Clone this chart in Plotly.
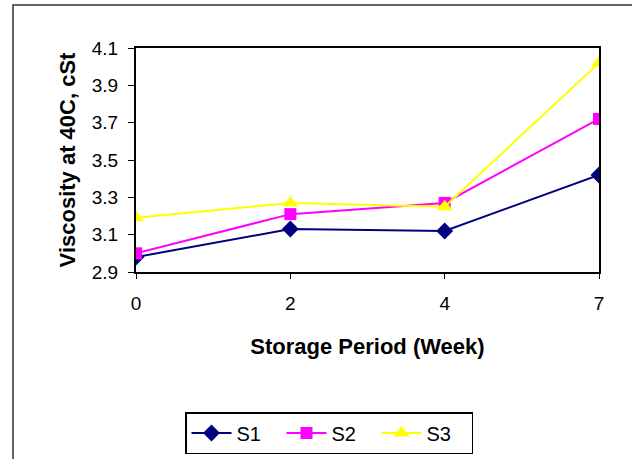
import plotly.graph_objects as go

weeks = ["0", "2", "4", "7"]
s1 = [2.98, 3.13, 3.12, 3.42]
s2 = [3.00, 3.21, 3.27, 3.72]
s3 = [3.19, 3.27, 3.25, 4.02]
y_ticks = [2.9, 3.1, 3.3, 3.5, 3.7, 3.9, 4.1]

W, H = 632, 459
L, R, T, B = 136, 33, 48, 187
pw, ph = W - L - R, H - T - B

fig = go.Figure()
fig.add_trace(go.Scatter(x=weeks, y=s1, name="S1", mode="lines+markers",
                         line=dict(color="#000080", width=2),
                         marker=dict(symbol="diamond", size=13, color="#000080")))
fig.add_trace(go.Scatter(x=weeks, y=s2, name="S2", mode="lines+markers",
                         line=dict(color="#FF00FF", width=2),
                         marker=dict(symbol="square", size=12, color="#FF00FF")))
fig.add_trace(go.Scatter(x=weeks, y=s3, name="S3", mode="lines+markers",
                         line=dict(color="#FFFF00", width=2),
                         marker=dict(symbol="triangle-up", size=14, color="#FFFF00")))

fam = "Liberation Sans, Arial, sans-serif"
tickfont = dict(family=fam, size=19, color="black")
titlefont = dict(family=fam, size=22, color="black")

fig.update_layout(
    width=W, height=H,
    margin=dict(l=L, r=R, t=T, b=B, autoexpand=False),
    paper_bgcolor="white", plot_bgcolor="white",
    font=tickfont,
    showlegend=True,
    legend=dict(orientation="h", x=(185 - L) / pw, y=-(412 - (T + ph)) / ph,
                xanchor="left", yanchor="top",
                bordercolor="black", borderwidth=1.5,
                font=dict(family=fam, size=20, color="black"),
                itemwidth=40, entrywidth=40, entrywidthmode="pixels",
                tracegroupgap=0),
    xaxis=dict(type="category", categoryorder="array", categoryarray=weeks,
               range=[0, 3], showgrid=False, zeroline=False, automargin=False,
               showline=True, linecolor="black", linewidth=2, mirror=True,
               ticks="outside", ticklen=5, tickcolor="black", tickwidth=1,
               tickfont=tickfont, ticklabelstandoff=8,
               title=dict(text="<b>Storage Period (Week)</b>", font=titlefont, standoff=26)),
    yaxis=dict(range=[2.9, 4.1], tickvals=y_ticks, ticktext=[f"{v:.1f}" for v in y_ticks],
               showgrid=False, zeroline=False, automargin=False,
               showline=True, linecolor="black", linewidth=2, mirror=True,
               ticks="outside", ticklen=6, tickcolor="black", tickwidth=1,
               tickfont=tickfont, ticklabelstandoff=6,
               title=dict(text="<b>Viscosity at 40C, cSt</b>", font=titlefont, standoff=10)),
    shapes=[dict(type="rect", xref="paper", yref="paper",
                 x0=(13 - L) / pw, x1=(W + 10 - L) / pw,
                 y0=((T + ph) - 5) / ph, y1=((T + ph) - (H + 10)) / ph,
                 line=dict(color="#333333", width=1.5), layer="below")],
)

fig.write_html("out.html")
